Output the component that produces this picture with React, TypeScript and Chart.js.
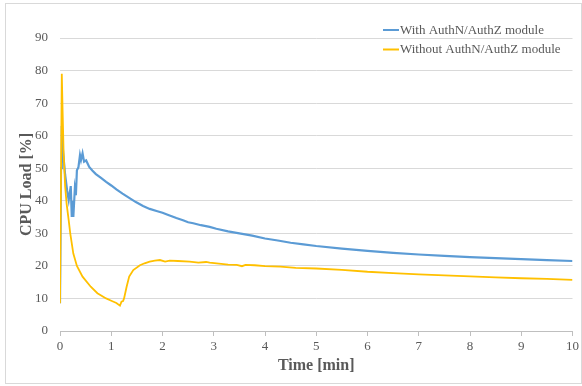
import React, { useEffect, useRef } from "react";
import { Chart, registerables } from "chart.js";

Chart.register(...registerables);

const seriesNames = ["With AuthN/AuthZ module", "Without AuthN/AuthZ module"];

const timeWith = [0, 0.02, 0.035, 0.06, 0.1, 0.14, 0.17, 0.21, 0.23, 0.24, 0.26, 0.29, 0.31, 0.33, 0.36, 0.39, 0.41, 0.44, 0.47, 0.51, 0.57, 0.63, 0.7, 0.8, 0.9, 1.0, 1.1, 1.22, 1.35, 1.48, 1.62, 1.75, 1.9, 2.0, 2.1, 2.27, 2.4, 2.5, 2.6, 2.75, 2.92, 3.05, 3.28, 3.5, 3.75, 4.0, 4.25, 4.5, 4.75, 5.0, 5.5, 6.0, 6.5, 7.0, 7.5, 8.0, 8.5, 9.0, 9.5, 10.0];
const loadWith = [8.5, 50, 63, 55, 48, 43, 40.2, 44.5, 35, 40, 35, 43.8, 41.7, 49.4, 50.3, 54, 52.5, 54.6, 52, 52.4, 50.4, 49.3, 48.2, 47, 45.8, 44.7, 43.5, 42.2, 40.9, 39.6, 38.4, 37.5, 36.8, 36.3, 35.7, 34.7, 34.0, 33.4, 33.1, 32.5, 32.0, 31.4, 30.6, 30.0, 29.3, 28.4, 27.8, 27.1, 26.6, 26.1, 25.3, 24.6, 24.0, 23.5, 23.1, 22.7, 22.4, 22.1, 21.8, 21.5];

const timeWithout = [0, 0.035, 0.05, 0.07, 0.1, 0.13, 0.17, 0.2, 0.26, 0.33, 0.44, 0.6, 0.73, 0.9, 1.0, 1.1, 1.17, 1.2, 1.23, 1.25, 1.3, 1.35, 1.43, 1.56, 1.65, 1.75, 1.85, 1.95, 2.05, 2.14, 2.3, 2.53, 2.7, 2.85, 2.92, 3.1, 3.28, 3.45, 3.55, 3.62, 3.8, 4.0, 4.3, 4.6, 5.0, 5.5, 6.0, 6.5, 7.0, 7.5, 8.0, 8.5, 9.0, 9.5, 10.0];
const loadWithout = [8.5, 79, 68, 55, 44.5, 39, 34, 30, 23.8, 20, 16.7, 13.6, 11.6, 10, 9.3, 8.6, 7.8, 9.0, 9.2, 10, 13.6, 16.7, 18.7, 20.2, 20.8, 21.3, 21.6, 21.8, 21.3, 21.6, 21.5, 21.3, 21.0, 21.2, 21.0, 20.7, 20.4, 20.3, 19.9, 20.3, 20.2, 19.9, 19.8, 19.4, 19.2, 18.8, 18.2, 17.8, 17.4, 17.1, 16.8, 16.5, 16.2, 16.0, 15.7];

const xTickValues = [0, 1, 2, 3, 4, 5, 6, 7, 8, 9, 10];
const yTickValues = [0, 10, 20, 30, 40, 50, 60, 70, 80, 90];

const xTitle = "Time [min]";
const yTitle = "CPU Load [%]";

const BLUE = "#5B9BD5";
const YELLOW = "#FFC000";
const TEXT = "#595959";
const FONT = "'Liberation Serif', 'Times New Roman', serif";

export default function App() {
  const ref = useRef<HTMLCanvasElement | null>(null);

  useEffect(() => {
    if (!ref.current) return;
    const legendPlugin = {
      id: "customLegend",
      afterDraw(chart: any) {
        const ctx = chart.ctx;
        ctx.save();
        const items = [
          { label: seriesNames[0], color: BLUE, y: 30 },
          { label: seriesNames[1], color: YELLOW, y: 49.5 },
        ];
        ctx.font = `13px ${FONT}`;
        ctx.textBaseline = "middle";
        ctx.textAlign = "left";
        for (const it of items) {
          ctx.strokeStyle = it.color;
          ctx.lineWidth = 2;
          ctx.beginPath();
          ctx.moveTo(383, it.y);
          ctx.lineTo(399, it.y);
          ctx.stroke();
          ctx.fillStyle = TEXT;
          ctx.fillText(it.label, 400, it.y + 0.5);
        }
        ctx.restore();
      },
    };

    const chart = new Chart(ref.current, {
      type: "line",
      data: {
        datasets: [
          {
            label: seriesNames[0],
            data: timeWith.map((t, i) => ({ x: t, y: loadWith[i] })),
            borderColor: BLUE,
            borderWidth: 2.2,
            pointRadius: 0,
            tension: 0,
            order: 1,
          },
          {
            label: seriesNames[1],
            data: timeWithout.map((t, i) => ({ x: t, y: loadWithout[i] })),
            borderColor: YELLOW,
            borderWidth: 1.8,
            pointRadius: 0,
            tension: 0,
            order: 0,
          },
        ],
      },
      options: {
        responsive: false,
        animation: false,
        layout: { padding: { left: 8, right: 9, top: 38, bottom: 0 } },
        plugins: {
          legend: { display: false },
          tooltip: { enabled: false },
        },
        scales: {
          x: {
            type: "linear",
            min: 0,
            max: 10,
            afterBuildTicks: (scale: any) => {
              scale.ticks = xTickValues.map((v) => ({ value: v }));
            },
            afterFit: (scale: any) => {
              scale.height = 55;
            },
            grid: {
              drawOnChartArea: false,
              drawTicks: true,
              tickLength: 5,
              color: "#bfbfbf",
            },
            border: { display: true, color: "#bfbfbf" },
            ticks: {
              color: TEXT,
              font: { family: FONT, size: 13 },
              padding: 3,
              maxRotation: 0,
              autoSkip: false,
            },
            title: {
              display: true,
              text: xTitle,
              color: TEXT,
              font: { family: FONT, size: 16, weight: "bold" },
              padding: { top: 0, bottom: 11 },
            },
          },
          y: {
            type: "linear",
            min: 0,
            max: 90,
            afterBuildTicks: (scale: any) => {
              scale.ticks = yTickValues.map((v) => ({ value: v }));
            },
            afterFit: (scale: any) => {
              scale.width = 52;
            },
            grid: {
              color: "#d9d9d9",
              drawTicks: false,
            },
            border: { display: false },
            ticks: {
              color: TEXT,
              font: { family: FONT, size: 13 },
              padding: 12,
            },
            title: {
              display: true,
              text: yTitle,
              color: TEXT,
              font: { family: FONT, size: 16, weight: "bold" },
              padding: { top: 9, bottom: 0 },
            },
          },
        },
      },
      plugins: [legendPlugin],
    } as any);
    return () => chart.destroy();
  }, []);

  return (
    <div style={{ position: "fixed", left: 0, top: 0, width: 582, height: 386, background: "#fff" }}>
      <div
        style={{
          position: "absolute",
          left: 5,
          top: 3,
          width: 577,
          height: 381,
          border: "1px solid #d9d9d9",
          boxSizing: "border-box",
        }}
      />
      <canvas ref={ref} width={582} height={386} style={{ position: "absolute", left: 0, top: 0 }} />
    </div>
  );
}
